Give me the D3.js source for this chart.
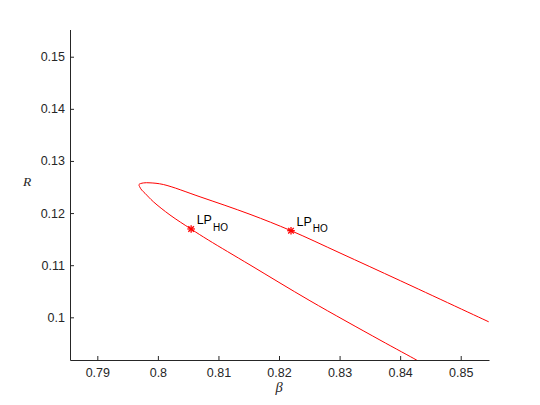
<!DOCTYPE html>
<html>
<head>
<meta charset="utf-8">
<script src="https://cdn.jsdelivr.net/npm/d3@7"></script>
<style>
  body { margin: 0; background: #fff; }
  text { font-family: "Liberation Sans", Arial, Helvetica, sans-serif; }
</style>
</head>
<body>
<div id="d3-container"></div>
<script>
// curve, ordered from the lower end, round the tip, to the upper end
const curveBeta = [0.84328, 0.84270, 0.83667, 0.82511, 0.81521, 0.80833, 0.80547, 0.80200, 0.79925, 0.79788,
                   0.79733, 0.79697, 0.79688, 0.79759, 0.79870, 0.80090, 0.80696, 0.81521, 0.82198, 0.83007,
                   0.84007, 0.85462];
const curveR = [0.09142, 0.09181, 0.09564, 0.10318, 0.11005, 0.11483, 0.11694, 0.11963, 0.12218, 0.12379,
                0.12442, 0.12510, 0.12548, 0.12578, 0.12580, 0.12548, 0.12312, 0.11976, 0.11662, 0.11234,
                0.10700, 0.09914];

// limit points
const lpBeta = [0.80549, 0.82198];
const lpR = [0.11695, 0.11662];
const lpLabels = ["LP", "LP"];
const lpSub = ["HO", "HO"];

const xTicks = [0.79, 0.80, 0.81, 0.82, 0.83, 0.84, 0.85];
const yTicks = [0.10, 0.11, 0.12, 0.13, 0.14, 0.15];

const width = 540;
const height = 405;
const margin = { top: 29.5, bottom: 45, left: 70, right: 51 };
const axisColor = "#262626";

const svg = d3.select('#d3-container')
    .append('svg')
    .attr('width', width)
    .attr('height', height);

const x = d3.scaleLinear()
    .domain([0.78549, 0.85467])
    .range([margin.left, width - margin.right]);

const y = d3.scaleLinear()
    .domain([0.09181, 0.15522])
    .range([height - margin.bottom, margin.top]);

svg.append("clipPath")
    .attr("id", "plot-clip")
  .append("rect")
    .attr("x", margin.left)
    .attr("y", margin.top)
    .attr("width", width - margin.left - margin.right)
    .attr("height", height - margin.top - margin.bottom);

// continuation curve
const pts = curveBeta.map((b, i) => [b, curveR[i]]);
const line = d3.line()
    .x(d => x(d[0]))
    .y(d => y(d[1]))
    .curve(d3.curveCatmullRom.alpha(0.5));

svg.append("path")
    .datum(pts)
    .attr("clip-path", "url(#plot-clip)")
    .attr("fill", "none")
    .attr("stroke", "#ff0000")
    .attr("stroke-width", 1)
    .attr("d", line);

// axes, ticks point inward like matlab
function xAxis(g) {
  g.attr("transform", `translate(0,${height - margin.bottom})`)
    .call(d3.axisBottom(x).tickValues(xTicks).tickFormat(d3.format("")).tickSizeInner(-4).tickSizeOuter(0).tickPadding(7.8))
    .attr("font-size", "12.5px")
    .attr("font-family", null);
  g.selectAll("path, line").attr("stroke", axisColor);
  g.selectAll("text").attr("fill", axisColor);
}

function yAxis(g) {
  g.attr("transform", `translate(${margin.left},0)`)
    .call(d3.axisLeft(y).tickValues(yTicks).tickFormat(d3.format("")).tickSizeInner(-4).tickSizeOuter(0).tickPadding(5))
    .attr("font-size", "12.5px")
    .attr("font-family", null);
  g.selectAll("path, line").attr("stroke", axisColor);
  g.selectAll("text").attr("fill", axisColor);
}

svg.append("g").call(xAxis);
svg.append("g").call(yAxis);

// axis labels
svg.append("text")
    .attr("x", 279)
    .attr("y", 392)
    .attr("text-anchor", "middle")
    .style("font-family", '"Liberation Serif", "Times New Roman", serif')
    .style("font-style", "italic")
    .style("font-size", "14.5px")
    .attr("fill", axisColor)
    .text("β");

svg.append("text")
    .attr("x", 27)
    .attr("y", 185.7)
    .attr("text-anchor", "middle")
    .style("font-family", '"Liberation Serif", "Times New Roman", serif')
    .style("font-style", "italic")
    .style("font-size", "13.5px")
    .attr("fill", axisColor)
    .text("R");

// star markers
const star = svg.append("g")
    .attr("stroke", "#ff0000")
    .attr("stroke-width", 1.3)
    .selectAll("g")
    .data(lpBeta.map((b, i) => ({ b: b, r: lpR[i] })))
    .join("g")
    .attr("transform", d => `translate(${x(d.b)},${y(d.r)})`);

const s = 3.8;
const d2 = 2.8;
[[-s, 0, s, 0], [0, -s, 0, s], [-d2, -d2, d2, d2], [-d2, d2, d2, -d2]].forEach(c => {
  star.append("line")
      .attr("x1", c[0]).attr("y1", c[1])
      .attr("x2", c[2]).attr("y2", c[3]);
});

// LP labels
const lab = svg.append("g")
    .selectAll("text")
    .data(lpBeta.map((b, i) => ({ b: b, r: lpR[i], t: lpLabels[i], sub: lpSub[i] })))
    .join("text")
    .attr("x", d => x(d.b) + 5.5)
    .attr("y", d => y(d.r) - 4.5)
    .attr("fill", "#000")
    .style("font-size", "12.5px");

lab.append("tspan").text(d => d.t);
lab.append("tspan")
    .attr("dx", 1)
    .attr("dy", 6.3)
    .style("font-size", "10px")
    .text(d => d.sub);
</script>
</body>
</html>
